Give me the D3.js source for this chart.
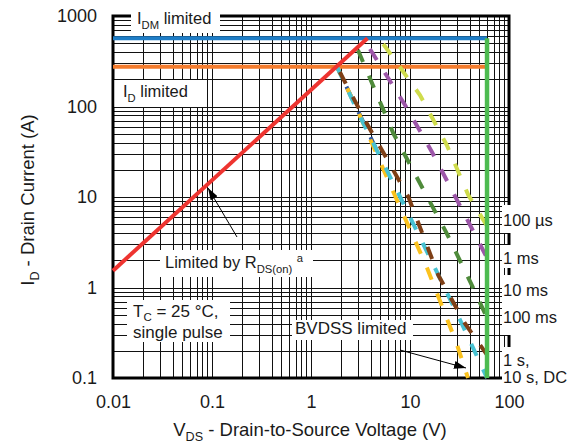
<!DOCTYPE html>
<html>
<head>
<meta charset="utf-8">
<script src="https://cdn.jsdelivr.net/npm/d3@7"></script>
<style>
  html, body { margin: 0; padding: 0; background: #fff; }
  svg { display: block; }
  text { font-family: "Liberation Sans", Arial, sans-serif; fill: #1a1a1a; }
</style>
</head>
<body>
<svg id="chart" width="579" height="443"></svg>
<script>
// ---- Safe operating area data ----
const voltageTicks = [0.01, 0.1, 1, 10, 100];
const currentTicks = [0.1, 1, 10, 100, 1000];

const idmLimit = 567;       // A, pulsed drain current limit
const idLimit = 275;        // A, continuous drain current limit
const bvdss = 60;           // V, breakdown voltage

// R_DS(on) limit line end points
const rdsV = [0.01, 3.72];
const rdsI = [1.535, 567];

// Pulse-width limited curves (V, A)
const v100us = [5.37, 12.6, 23.5, 38.8, 60];
const i100us = [490, 134, 37.6, 10.5, 4.78];
const v1ms   = [3.94, 8.9, 16.6, 40.4, 60];
const i1ms   = [432, 104, 31.7, 4.91, 2.12];
const v10ms  = [2.98, 6.78, 12.6, 23.5, 42.0, 60];
const i10ms  = [421, 50.6, 14.2, 3.97, 1.07, 0.46];
const v100ms = [1.83, 3.65, 9.6, 19.3, 35.9, 60];
const i100ms = [275, 65.2, 10.1, 1.37, 0.40, 0.18];
const v1s    = [1.83, 3.13, 7.62, 18.6, 32.0, 60];
const i1s    = [275, 77.2, 11.0, 1.50, 0.44, 0.1];
const v10s   = [1.83, 2.89, 6.53, 14.7, 29.6, 38.5];
const i10s   = [275, 95.5, 12.5, 1.70, 0.24, 0.1];
const vDC    = [1.83, 4.86];
const iDC    = [275, 29.0];

const durationLabels = ["100 µs", "1 ms", "10 ms", "100 ms", "1 s,", "10 s, DC"];

// ---- Layout ----
const svg = d3.select("#chart");
const plotL = 113, plotR = 509, plotT = 16, plotB = 378;

const x = d3.scaleLog().domain([0.01, 100]).range([plotL, plotR]);
const y = d3.scaleLog().domain([0.1, 1000]).range([plotB, plotT]);

const font = '"Liberation Sans", Arial, sans-serif';

// grid
const grid = svg.append("g").attr("shape-rendering", "crispEdges")
  .attr("stroke", "#111").attr("stroke-width", 1);
grid.selectAll("line.v").data(x.ticks()).join("line").attr("class", "v")
  .attr("x1", d => Math.round(x(d)) + 0.5).attr("x2", d => Math.round(x(d)) + 0.5)
  .attr("y1", plotT).attr("y2", plotB);
grid.selectAll("line.h").data(y.ticks()).join("line").attr("class", "h")
  .attr("y1", d => Math.round(y(d)) + 0.5).attr("y2", d => Math.round(y(d)) + 0.5)
  .attr("x1", plotL).attr("x2", plotR);

// frame
svg.append("rect").attr("x", plotL).attr("y", plotT)
  .attr("width", plotR - plotL).attr("height", plotB - plotT)
  .attr("fill", "none").attr("stroke", "#000").attr("stroke-width", 3);

// axes labels
const xAxis = d3.axisBottom(x).tickValues(voltageTicks).tickSize(0).tickPadding(17)
  .tickFormat(d => d3.format("~g")(d));
const gx = svg.append("g").attr("transform", `translate(0,${plotB})`).call(xAxis);
gx.select(".domain").remove();
gx.selectAll("text").attr("font-size", 18).attr("font-family", font).attr("fill", "#1a1a1a");

const yAxis = d3.axisLeft(y).tickValues(currentTicks).tickSize(0).tickPadding(16)
  .tickFormat(d => d3.format("~g")(d));
const gy = svg.append("g").attr("transform", `translate(${plotL},0)`).call(yAxis);
gy.select(".domain").remove();
gy.selectAll("text").attr("font-size", 18).attr("font-family", font).attr("fill", "#1a1a1a");

// text helper with sub/superscripts
function richText(g, parts, size) {
  const t = g.append("text").attr("font-size", size);
  let shift = 0;
  parts.forEach(([s, kind]) => {
    const target = kind === "sub" ? size * 0.28 : kind === "sup" ? -size * 0.38 : 0;
    t.append("tspan")
      .attr("dy", target - shift)
      .attr("font-size", kind ? size * 0.68 : size)
      .text(s);
    shift = target;
  });
  return t;
}

// axis titles
const xt = svg.append("g").attr("transform", "translate(310,436)");
richText(xt, [["V"], ["DS", "sub"], [" - Drain-to-Source Voltage (V)"]], 18.5)
  .attr("text-anchor", "middle");
const yt = svg.append("g").attr("transform", "translate(34,200) rotate(-90)");
richText(yt, [["I"], ["D", "sub"], [" - Drain Current (A)"]], 18.5)
  .attr("text-anchor", "middle");

// limit lines
const lineGen = d3.line().x(d => x(d[0])).y(d => y(d[1]));
const zip = (a, b) => a.map((v, i) => [v, b[i]]);

svg.append("path").datum([[0.01, idmLimit], [bvdss, idmLimit]])
  .attr("d", lineGen).attr("stroke", "#1e7dc6").attr("stroke-width", 4).attr("fill", "none");
svg.append("path").datum([[0.01, idLimit], [bvdss, idLimit]])
  .attr("d", lineGen).attr("stroke", "#f47b2c").attr("stroke-width", 4).attr("fill", "none");

// pulse curves
const pulses = [
  { v: vDC,    i: iDC,    color: "#2c55a0", off: 6 },
  { v: v10s,   i: i10s,   color: "#fbc21e", off: 4 },
  { v: v1s,    i: i1s,    color: "#48c2d2", off: 0 },
  { v: v100ms, i: i100ms, color: "#7e3f16", off: 22 },
  { v: v10ms,  i: i10ms,  color: "#4f8b3b", off: 0 },
  { v: v1ms,   i: i1ms,   color: "#9c56a8", off: 0 },
  { v: v100us, i: i100us, color: "#cfdc4c", off: 0 }
];
svg.append("g").selectAll("path").data(pulses).join("path")
  .attr("d", d => lineGen(zip(d.v, d.i)))
  .attr("fill", "none").attr("stroke", d => d.color).attr("stroke-width", 4)
  .attr("stroke-dasharray", "13,15").attr("stroke-dashoffset", d => d.off);

// R_DS(on) limit
svg.append("path").datum(zip(rdsV, rdsI))
  .attr("d", lineGen).attr("stroke", "#ee3430").attr("stroke-width", 4).attr("fill", "none");

// BVDSS limit
svg.append("path").datum([[bvdss, idmLimit], [bvdss, 0.1]])
  .attr("d", lineGen).attr("stroke", "#4dbb50").attr("stroke-width", 4.5).attr("fill", "none");

// annotation boxes and text
function box(x0, y0, w, h) {
  svg.append("rect").attr("x", x0).attr("y", y0).attr("width", w).attr("height", h).attr("fill", "#fff");
}
box(131, 6, 89, 27);
richText(svg.append("g").attr("transform", "translate(137,24)"), [["I"], ["DM", "sub"], [" limited"]], 16.5);

box(114.5, 80, 92, 27);
richText(svg.append("g").attr("transform", "translate(123,97)"), [["I"], ["D", "sub"], [" limited"]], 16.5);

box(160, 250, 153, 27);
richText(svg.append("g").attr("transform", "translate(165,268)"),
  [["Limited by R"], ["DS(on)", "sub"], ["  "], ["a", "sup"]], 16.5);

box(127, 300, 103, 42);
svg.append("text").attr("x", 133).attr("y", 317).attr("font-size", 17)
  .call(t => {
    t.append("tspan").text("T");
    t.append("tspan").attr("dy", 4).attr("font-size", 11.5).text("C");
    t.append("tspan").attr("dy", -4).text(" = 25 °C,");
  });
svg.append("text").attr("x", 133).attr("y", 338).attr("font-size", 17).text("single pulse");

box(292, 320, 121, 20);
svg.append("text").attr("x", 295).attr("y", 334).attr("font-size", 17).text("BVDSS limited");

// right-hand duration labels
box(502, 205, 77, 28);
box(502, 245, 77, 23);
box(502, 275, 77, 60);
box(502, 347, 77, 40);
const labelY = [226, 264, 296, 323, 366, 383];
svg.append("g").selectAll("text").data(durationLabels).join("text")
  .attr("x", 503).attr("y", (d, k) => labelY[k]).attr("font-size", 16.5).text(d => d);

// arrows
svg.append("defs").append("marker").attr("id", "ah")
  .attr("viewBox", "0 0 12 8").attr("refX", 12).attr("refY", 4)
  .attr("markerWidth", 12).attr("markerHeight", 8).attr("markerUnits", "userSpaceOnUse")
  .attr("orient", "auto")
  .append("path").attr("d", "M0,0 L12,4 L0,8 Z").attr("fill", "#000");
svg.append("line").attr("x1", 237).attr("y1", 237).attr("x2", 208).attr("y2", 188)
  .attr("stroke", "#000").attr("stroke-width", 1).attr("marker-end", "url(#ah)");
svg.append("line").attr("x1", 400).attr("y1", 350).attr("x2", 466).attr("y2", 368)
  .attr("stroke", "#000").attr("stroke-width", 1).attr("marker-end", "url(#ah)");
</script>
</body>
</html>
